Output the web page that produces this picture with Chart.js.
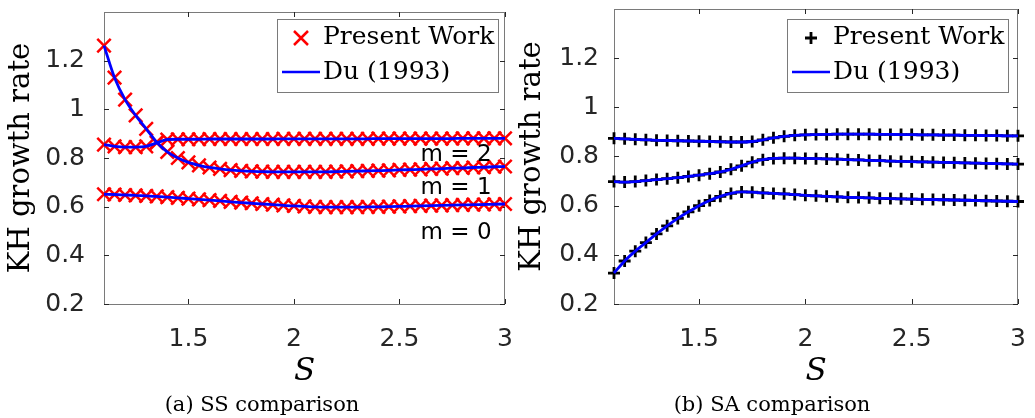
<!DOCTYPE html>
<html>
<head>
<meta charset="utf-8">
<script src="https://cdn.jsdelivr.net/npm/chart.js@4.4.0/dist/chart.umd.min.js"></script>
<style>
  body { margin: 0; background: #fff; }
  #wrap { position: relative; width: 1035px; height: 418px; overflow: hidden; }
  canvas { position: absolute; top: 0; }
  .cap { position: absolute; top: 392px; font-family: "DejaVu Serif"; font-size: 21px; color: #000; white-space: nowrap; transform: translateX(-50%); }
</style>
</head>
<body>
<div id="wrap">
  <canvas id="ss" width="517" height="418" style="left:0"></canvas>
  <canvas id="sa" width="518" height="418" style="left:517px"></canvas>
  <div class="cap" style="left:262px">(a) SS comparison</div>
  <div class="cap" style="left:772px">(b) SA comparison</div>
</div>
<script>
// S values shared by every curve
const sValues = [1.10, 1.15, 1.20, 1.25, 1.30, 1.35, 1.40, 1.45, 1.50, 1.55,
  1.60, 1.65, 1.70, 1.75, 1.80, 1.85, 1.90, 1.95, 2.00, 2.05,
  2.10, 2.15, 2.20, 2.25, 2.30, 2.35, 2.40, 2.45, 2.50, 2.55,
  2.60, 2.65, 2.70, 2.75, 2.80, 2.85, 2.90, 2.95, 3.00];

// (a) SS growth rates, m = 0, 1, 2
const ssM0 = [0.651, 0.650, 0.648, 0.646, 0.644, 0.642, 0.639, 0.636, 0.633, 0.630,
  0.627, 0.624, 0.620, 0.617, 0.614, 0.611, 0.608, 0.605, 0.603, 0.601,
  0.599, 0.598, 0.598, 0.598, 0.598, 0.599, 0.599, 0.600, 0.601, 0.602,
  0.603, 0.604, 0.605, 0.606, 0.607, 0.608, 0.609, 0.610, 0.611];
const ssM1 = [1.262, 1.130, 1.040, 0.975, 0.920, 0.865, 0.825, 0.800, 0.782, 0.770,
  0.761, 0.755, 0.750, 0.747, 0.745, 0.744, 0.743, 0.743, 0.743, 0.743,
  0.743, 0.743, 0.744, 0.745, 0.746, 0.747, 0.748, 0.749, 0.751, 0.752,
  0.753, 0.755, 0.756, 0.758, 0.759, 0.761, 0.762, 0.764, 0.765];
const ssM2 = [0.855, 0.848, 0.845, 0.845, 0.848, 0.862, 0.876, 0.877, 0.877, 0.877,
  0.878, 0.878, 0.878, 0.878, 0.878, 0.878, 0.878, 0.879, 0.879, 0.879,
  0.879, 0.879, 0.879, 0.879, 0.879, 0.879, 0.880, 0.880, 0.880, 0.880,
  0.880, 0.880, 0.880, 0.880, 0.881, 0.881, 0.881, 0.881, 0.881];

// (b) SA growth rates, m = 0, 1, 2
const saM0 = [0.326, 0.375, 0.415, 0.450, 0.485, 0.518, 0.548, 0.575, 0.600, 0.621,
  0.638, 0.650, 0.656, 0.655, 0.652, 0.650, 0.648, 0.645, 0.642, 0.640,
  0.638, 0.636, 0.634, 0.633, 0.632, 0.630, 0.629, 0.628, 0.627, 0.626,
  0.625, 0.624, 0.623, 0.622, 0.621, 0.620, 0.619, 0.618, 0.617];
const saM1 = [0.698, 0.696, 0.698, 0.702, 0.706, 0.710, 0.714, 0.719, 0.724, 0.730,
  0.737, 0.748, 0.762, 0.777, 0.787, 0.792, 0.793, 0.793, 0.792, 0.791,
  0.790, 0.789, 0.787, 0.786, 0.784, 0.783, 0.781, 0.780, 0.779, 0.778,
  0.777, 0.776, 0.775, 0.774, 0.773, 0.772, 0.771, 0.770, 0.769];
const saM2 = [0.874, 0.872, 0.870, 0.868, 0.866, 0.865, 0.864, 0.863, 0.862, 0.861,
  0.860, 0.859, 0.859, 0.861, 0.868, 0.876, 0.882, 0.886, 0.888, 0.889,
  0.890, 0.891, 0.891, 0.891, 0.891, 0.890, 0.890, 0.889, 0.889, 0.888,
  0.888, 0.887, 0.887, 0.886, 0.886, 0.885, 0.885, 0.884, 0.884];

const xTicks = [1.5, 2, 2.5, 3];
const yTicks = [0.2, 0.4, 0.6, 0.8, 1, 1.2];
const modeNames = ["m = 2", "m = 1", "m = 0"];
const legendNames = ["Present Work", "Du (1993)"];

function pts(ys) {
  return ys.map((y, i) => ({ x: sValues[i], y: y }));
}

// box, inward ticks, legend and text notes (MATLAB look)
const matlabLook = {
  id: "matlabLook",
  beforeDatasetsDraw(chart, args, opts) {
    let ctx = chart.ctx;
    let a = chart.chartArea;
    let x = chart.scales.x, y = chart.scales.y;
    ctx.save();
    ctx.strokeStyle = "#7a7a7a";
    ctx.lineWidth = 1;
    ctx.strokeRect(a.left + 0.5, a.top + 0.5, a.right - a.left - 1, a.bottom - a.top);
    ctx.strokeStyle = "#262626";
    ctx.beginPath();
    xTicks.forEach(v => {
      let px = Math.round(x.getPixelForValue(v)) + 0.5;
      ctx.moveTo(px, a.bottom); ctx.lineTo(px, a.bottom - 5);
      ctx.moveTo(px, a.top); ctx.lineTo(px, a.top + 5);
    });
    yTicks.forEach(v => {
      let py = Math.round(y.getPixelForValue(v)) + 0.5;
      ctx.moveTo(a.left, py); ctx.lineTo(a.left + 5, py);
      ctx.moveTo(a.right, py); ctx.lineTo(a.right - 5, py);
    });
    ctx.stroke();
    ctx.restore();
  },
  afterDraw(chart, args, opts) {
    let ctx = chart.ctx;
    let x = chart.scales.x, y = chart.scales.y;
    ctx.save();
    // mode labels
    if (opts.notes) {
      ctx.fillStyle = "#000";
      ctx.font = "23px 'DejaVu Sans'";
      ctx.textBaseline = "alphabetic";
      opts.notes.forEach(n => {
        ctx.fillText(n.text, x.getPixelForValue(n.x), y.getPixelForValue(n.y));
      });
    }
    // legend
    let L = opts.legend;
    ctx.fillStyle = "#fff";
    ctx.fillRect(L.left, L.top, 221, 73);
    ctx.strokeStyle = "#7a7a7a";
    ctx.lineWidth = 1;
    ctx.strokeRect(L.left + 0.5, L.top + 0.5, 221, 73);
    ctx.strokeStyle = L.color;
    ctx.lineWidth = L.markerWidth;
    ctx.beginPath();
    let mx = L.left + 24, my = L.top + 19, r = L.markerSize;
    if (L.marker === "x") {
      ctx.moveTo(mx - r, my - r); ctx.lineTo(mx + r, my + r);
      ctx.moveTo(mx - r, my + r); ctx.lineTo(mx + r, my - r);
    } else {
      ctx.moveTo(mx - r, my); ctx.lineTo(mx + r, my);
      ctx.moveTo(mx, my - r); ctx.lineTo(mx, my + r);
    }
    ctx.stroke();
    ctx.strokeStyle = "#0000ff";
    ctx.lineWidth = 2.5;
    ctx.beginPath();
    ctx.moveTo(L.left + 5, L.top + 53);
    ctx.lineTo(L.left + 43, L.top + 53);
    ctx.stroke();
    ctx.fillStyle = "#000";
    ctx.font = "25px 'DejaVu Serif'";
    ctx.textBaseline = "middle";
    ctx.fillText(legendNames[0], L.left + 46, L.top + 18);
    ctx.fillText(legendNames[1], L.left + 46, L.top + 53);
    ctx.restore();
  }
};

function makeChart(canvasId, series, marker, yWidth, tickPad, titlePad, rightPad, pluginOpts) {
  let ctx = document.getElementById(canvasId).getContext("2d");
  let datasets = [];
  // Du (1993) lines first so they are drawn on top
  series.forEach(ys => {
    datasets.push({
      data: pts(ys), showLine: true, borderColor: "#0000ff", borderWidth: 2.8,
      pointRadius: 0, cubicInterpolationMode: "monotone", clip: false
    });
  });
  series.forEach(ys => {
    datasets.push({
      data: pts(ys), showLine: false, pointStyle: marker.style, pointRadius: marker.radius,
      pointBorderColor: marker.color, pointBackgroundColor: marker.color,
      pointBorderWidth: marker.width, clip: false
    });
  });

  return new Chart(ctx, {
    type: "scatter",
    data: { datasets: datasets },
    plugins: [matlabLook],
    options: {
      responsive: false,
      animation: false,
      devicePixelRatio: 1,
      layout: { padding: { left: 0, right: rightPad, top: 9, bottom: 27 } },
      plugins: { legend: { display: false }, tooltip: { enabled: false }, matlabLook: pluginOpts },
      scales: {
        x: {
          type: "linear", min: 1.1, max: 3,
          grid: { display: false }, border: { display: false },
          afterBuildTicks: s => { s.ticks = xTicks.map(v => ({ value: v })); },
          afterFit: s => { s.height = 87; s.paddingLeft = 0; s.paddingRight = 0; },
          ticks: { color: "#262626", padding: 12, font: { family: "DejaVu Sans", size: 25 },
            callback: v => String(Math.round(v * 10) / 10) },
          title: { display: true, text: "S", color: "#000", padding: 0,
            font: { family: "DejaVu Serif", size: 31, style: "italic", lineHeight: 1.2 } }
        },
        y: {
          type: "linear", min: 0.2, max: 1.4,
          grid: { display: false }, border: { display: false },
          afterBuildTicks: s => { s.ticks = yTicks.map(v => ({ value: v })); },
          afterFit: s => { s.width = yWidth; s.paddingTop = 0; s.paddingBottom = 0; },
          ticks: { color: "#262626", padding: tickPad, font: { family: "DejaVu Sans", size: 25 },
            callback: v => String(Math.round(v * 10) / 10) },
          title: { display: true, text: "KH growth rate", color: "#000", padding: titlePad,
            font: { family: "DejaVu Serif", size: 29, lineHeight: 1 } }
        }
      }
    }
  });
}

makeChart("ss", [ssM0, ssM1, ssM2],
  { style: "crossRot", radius: 9.5, color: "#ff0000", width: 2.5 },
  104, 11, 7, 9,
  {
    legend: { left: 277, top: 19, marker: "x", color: "#ff0000", markerSize: 7, markerWidth: 2.5 },
    notes: [
      { text: modeNames[0], x: 2.6, y: 0.786 },
      { text: modeNames[1], x: 2.6, y: 0.652 },
      { text: modeNames[2], x: 2.6, y: 0.469 }
    ]
  });

makeChart("sa", [saM0, saM1, saM2],
  { style: "cross", radius: 6, color: "#000000", width: 2.8 },
  97, 7, 1, 17,
  {
    legend: { left: 270, top: 19, marker: "+", color: "#000000", markerSize: 6, markerWidth: 2.8 }
  });
</script>
</body>
</html>
